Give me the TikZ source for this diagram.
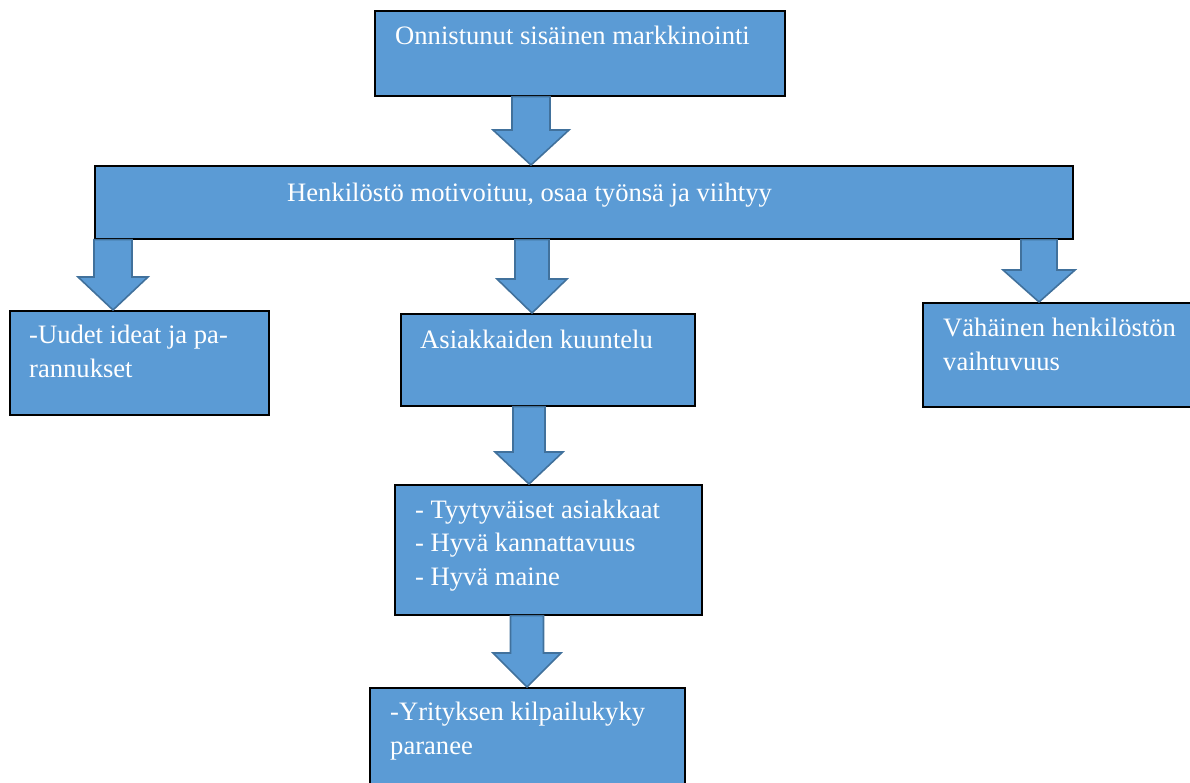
\documentclass[tikz,border=0pt]{standalone}
\usepackage{fontspec}
\setmainfont{Liberation Serif}
\usetikzlibrary{calc}
\definecolor{boxblue}{HTML}{5B9BD5}
\definecolor{arrowedge}{HTML}{41719C}
\tikzset{
 box/.style={draw=black, line width=1.6pt, fill=boxblue, rectangle, anchor=north west, inner sep=0pt},
 lbl/.style={anchor=base west, inner sep=0pt, text=white, font=\fontsize{26.6}{33.5}\selectfont, align=left},
 barrow/.style={fill=boxblue, draw=arrowedge, line width=1.6pt, line join=miter}
}
% from, to, x centre, shaft half width, head half width, head length
\newcommand\blockarrow[6]{%
 \path[barrow] let \p1=(#1.south), \p2=(#2.north) in
  ({(#3-#4)*1pt},\y1) -- ({(#3+#4)*1pt},\y1) -- ({(#3+#4)*1pt},{\y2+#6pt})
  -- ({(#3+#5)*1pt},{\y2+#6pt}) -- ({#3*1pt},\y2) -- ({(#3-#5)*1pt},{\y2+#6pt})
  -- ({(#3-#4)*1pt},{\y2+#6pt}) -- cycle;}
\begin{document}
\begin{tikzpicture}[x=1pt,y=-1pt]
\useasboundingbox (0,0) rectangle (1190,783);
% boxes
\node[box, minimum width=410pt, minimum height=85pt] (b1) at (374,10) {};
\node[box, minimum width=978pt, minimum height=73pt] (b2) at (94,165) {};
\node[box, minimum width=259pt, minimum height=104pt] (bl) at (9,310) {};
\node[box, minimum width=294pt, minimum height=92pt] (bm) at (400,313) {};
\node[box, minimum width=290pt, minimum height=104pt] (br) at (922,302) {};
\node[box, minimum width=307pt, minimum height=130pt] (b3) at (394,484) {};
\node[box, minimum width=315pt, minimum height=120pt] (b4) at (369,687) {};
% arrows
\blockarrow{b1}{b2}{531}{19}{38}{35}
\blockarrow{b2}{bl}{113}{19}{35}{33}
\blockarrow{b2}{bm}{532}{17}{35}{34}
\blockarrow{b2}{br}{1039}{18}{36}{32}
\blockarrow{bm}{b3}{529}{16}{34}{32}
\blockarrow{b3}{b4}{527}{16.5}{34}{34}
% texts (multi-line nodes: base = last line)
\node[lbl] (t1) at (395,45) {Onnistunut sisäinen markkinointi};
\node[lbl] (t2) at (287,202) {Henkilöstö motivoituu, osaa työnsä ja viihtyy};
\node[lbl] (tl) at (29,377) {-Uudet ideat ja pa-\\rannukset};
\node[lbl] (tm) at (420,348) {Asiakkaiden kuuntelu};
\node[lbl] (tr) at (943,370) {Vähäinen henkilöstön\\vaihtuvuus};
\node[lbl] (t3) at (415,585) {- Tyytyväiset asiakkaat\\- Hyvä kannattavuus\\- Hyvä maine};
\node[lbl] (t4) at (390,754) {-Yrityksen kilpailukyky\\paranee};
\end{tikzpicture}
\end{document}
